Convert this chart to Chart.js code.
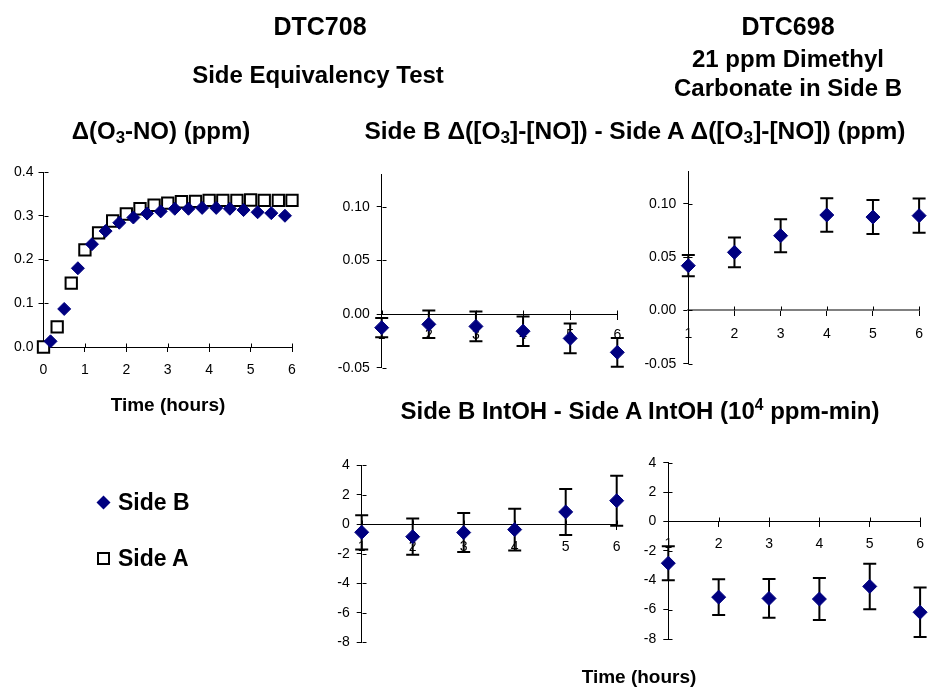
<!DOCTYPE html>
<html><head><meta charset="utf-8">
<script src="https://cdn.jsdelivr.net/npm/chart.js@4.4.1/dist/chart.umd.min.js"></script>
<style>
html,body{margin:0;padding:0;background:#fff;}
#wrap{position:relative;width:933px;height:687px;overflow:hidden;background:#fff;font-family:"Liberation Sans",Arial,Helvetica,sans-serif;color:#000;}
canvas.layer{position:absolute;left:0;top:0;}
.t{position:absolute;width:800px;text-align:center;font-weight:bold;white-space:nowrap;}
.sb{font-size:70%;vertical-align:-0.25em;line-height:0;}
.sp{font-size:65%;vertical-align:0.6em;line-height:0;}
.lg{position:absolute;font-weight:bold;font-size:23px;line-height:23px;white-space:nowrap;}
.lg svg{position:absolute;left:-22px;top:4px;}
</style></head><body>
<div id="wrap">
<canvas class="layer" id="cL" width="933" height="687"></canvas>
<canvas class="layer" id="cP2" width="933" height="687"></canvas>
<canvas class="layer" id="cP3" width="933" height="687"></canvas>
<canvas class="layer" id="cP4" width="933" height="687"></canvas>
<canvas class="layer" id="cP5" width="933" height="687"></canvas>

<div class="t" style="left:-80px;top:14px;font-size:25px;line-height:25px;">DTC708</div>
<div class="t" style="left:-82px;top:63px;font-size:24px;line-height:24px;">Side Equivalency Test</div>
<div class="t" style="left:388px;top:14px;font-size:25px;line-height:25px;">DTC698</div>
<div class="t" style="left:388px;top:47px;font-size:24px;line-height:24px;">21 ppm Dimethyl</div>
<div class="t" style="left:388px;top:76px;font-size:24px;line-height:24px;">Carbonate in Side B</div>
<div class="t" style="left:-239px;top:119px;font-size:24px;line-height:24px;">&Delta;(O<span class="sb">3</span>-NO) (ppm)</div>
<div class="t" style="left:235px;top:119px;font-size:24.5px;line-height:24px;">Side B &Delta;([O<span class="sb">3</span>]-[NO]) - Side A &Delta;([O<span class="sb">3</span>]-[NO]) (ppm)</div>
<div class="t" style="left:-232px;top:395px;font-size:19px;line-height:19px;">Time (hours)</div>
<div class="t" style="left:240px;top:399px;font-size:24px;line-height:24px;">Side B IntOH - Side A IntOH (10<span class="sp">4</span> ppm-min)</div>
<div class="t" style="left:239px;top:667px;font-size:19px;line-height:19px;">Time (hours)</div>

<div class="lg" style="left:118px;top:491px;"><svg width="15" height="15" viewBox="0 0 15 15"><polygon points="7.5,0.5 14.5,7.5 7.5,14.5 0.5,7.5" fill="#000080"/></svg>Side B</div>
<div class="lg" style="left:118px;top:547px;"><svg width="15" height="15" viewBox="0 0 15 15"><rect x="2" y="2" width="11" height="11" fill="#fff" stroke="#000" stroke-width="2"/></svg>Side A</div>
</div>
<script>
// ---------- data ----------
const sideBTimes = [0.17,0.5,0.83,1.17,1.5,1.83,2.17,2.5,2.83,3.17,3.5,3.83,4.17,4.5,4.83,5.17,5.5,5.83];
const sideBO3NO  = [0.013,0.087,0.180,0.235,0.265,0.284,0.296,0.305,0.310,0.316,0.316,0.318,0.318,0.316,0.313,0.308,0.306,0.300];
const sideATimes = [0,0.33,0.67,1,1.33,1.67,2,2.33,2.67,3,3.33,3.67,4,4.33,4.67,5,5.33,5.67,6];
const sideAO3NO  = [0,0.046,0.146,0.222,0.261,0.288,0.304,0.316,0.324,0.329,0.332,0.333,0.335,0.335,0.335,0.336,0.335,0.335,0.335];

const hours = [1,2,3,4,5,6];
const dtc708DO3 = [-0.0127,-0.0096,-0.0115,-0.0160,-0.0227,-0.0357];
const dtc708DO3Err = [0.0090,0.0128,0.0138,0.0137,0.0138,0.0134];
const dtc698DO3 = [0.0419,0.0544,0.0700,0.0894,0.0875,0.0888];
const dtc698DO3Err = [0.0100,0.0139,0.0155,0.0156,0.0160,0.0160];
const dtc708OH = [-0.54,-0.84,-0.56,-0.36,0.84,1.60];
const dtc708OHErr = [1.16,1.23,1.32,1.41,1.56,1.70];
const dtc698OH = [-2.84,-5.15,-5.24,-5.28,-4.42,-6.18];
const dtc698OHErr = [1.16,1.22,1.32,1.43,1.55,1.69];

const leftYTicks = [0,0.1,0.2,0.3,0.4];
const leftXTicks = [0,1,2,3,4,5,6];
const diffYTicks = [-0.05,0,0.05,0.10];
const ohYTicks = [-8,-6,-4,-2,0,2,4];
const hourTicks = [1,2,3,4,5,6];

// ---------- helpers ----------
const FONT = '"Liberation Sans", Arial, Helvetica, sans-serif';
const W = 933, H = 687;
const NAVY = '#000080';

function pts(xs, ys){ return xs.map((x,i)=>({x:x, y:ys[i]})); }

const errorBars = {
  id:'errorBars',
  beforeDatasetsDraw(chart){
    const ctx = chart.ctx, xs = chart.scales.x, ys = chart.scales.y;
    chart.data.datasets.forEach(ds=>{
      if(!ds.errors) return;
      ctx.save();
      ctx.strokeStyle = '#000'; ctx.lineWidth = 2;
      ds.data.forEach((p,i)=>{
        const e = ds.errors[i];
        const px = xs.getPixelForValue(p.x);
        const t = ys.getPixelForValue(p.y + e), b = ys.getPixelForValue(p.y - e);
        ctx.beginPath();
        ctx.moveTo(px, t); ctx.lineTo(px, b);
        ctx.moveTo(px-6.5, t); ctx.lineTo(px+6.5, t);
        ctx.moveTo(px-6.5, b); ctx.lineTo(px+6.5, b);
        ctx.stroke();
      });
      ctx.restore();
    });
  }
};

const innerTicks = {
  id:'innerTicks',
  beforeDatasetsDraw(chart, args, opts){
    const ctx = chart.ctx, xs = chart.scales.x, ys = chart.scales.y;
    const len = 4;
    ctx.save();
    ctx.strokeStyle = '#000'; ctx.lineWidth = 1;
    ctx.beginPath();
    const ax = Math.round(ys.right) + 0.5;
    ys.ticks.forEach((t,i)=>{
      const py = Math.round(ys.getPixelForTick(i)) + 0.5;
      ctx.moveTo(ax, py); ctx.lineTo(ax + len, py);
    });
    const ay = Math.round(opts.crossZero ? ys.getPixelForValue(0) : xs.top) + 0.5;
    xs.ticks.forEach((t,i)=>{
      const px = Math.round(xs.getPixelForTick(i)) + 0.5;
      ctx.moveTo(px, ay); ctx.lineTo(px, ay - len);
    });
    ctx.stroke();
    ctx.restore();
  }
};

function tickOpts(fmt, pad){
  return {color:'#000', font:{family:FONT, size:14}, padding:pad, autoSkip:false, maxRotation:0, callback:fmt};
}
function gridOpts(){
  return {display:true, drawOnChartArea:false, drawTicks:true, tickLength:5, color:'#000', lineWidth:1};
}

function makeChart(id, area, datasets, cfg){
  const yW = Math.min(55, area.left), xH = 40;
  const padding = {
    left: area.left - yW,
    top: area.top,
    right: W - area.right,
    bottom: cfg.crossZero ? (H - area.bottom) : (H - area.bottom - xH)
  };
  return new Chart(document.getElementById(id), {
    type:'scatter',
    data:{datasets:datasets},
    options:{
      responsive:false, animation:false, devicePixelRatio:1,
      layout:{padding:padding},
      plugins:{legend:{display:false}, tooltip:{enabled:false}, innerTicks:{crossZero:cfg.crossZero}},
      scales:{
        x:{
          type:'linear', min:cfg.xMin, max:cfg.xMax,
          position: cfg.crossZero ? {y:0} : 'bottom',
          afterFit(s){ s.height = xH; },
          afterBuildTicks(s){ s.ticks = cfg.xTicks.map(v=>({value:v})); },
          ticks:tickOpts(v=>String(v), cfg.xPad),
          grid:gridOpts(),
          border:{display:true, color:cfg.xAxisColor || '#000', width:cfg.xAxisWidth || 1}
        },
        y:{
          type:'linear', min:cfg.yMin, max:cfg.yMax,
          position:'left',
          afterFit(s){ s.width = yW; },
          afterBuildTicks(s){ s.ticks = cfg.yTicks.map(v=>({value:v})); },
          ticks:tickOpts(cfg.yFmt, cfg.yPad),
          grid:gridOpts(),
          border:{display:true, color:'#000', width:1}
        }
      }
    },
    plugins:[errorBars, innerTicks]
  });
}

function diamondSet(label, xs, ys, errs, r){
  return {label:label, data:pts(xs, ys), errors:errs, showLine:false, clip:false,
    pointStyle:'rectRot', pointRadius:r, pointHoverRadius:r,
    backgroundColor:NAVY, borderColor:NAVY, borderWidth:1};
}

// ---------- left panel ----------
makeChart('cL', {left:43.5, right:292, top:172, bottom:347}, [
  diamondSet('Side B', sideBTimes, sideBO3NO, null, 6.5),
  {label:'Side A', data:pts(sideATimes, sideAO3NO), showLine:false, clip:false,
   pointStyle:'rect', pointRadius:8, pointHoverRadius:8,
   backgroundColor:'#fff', borderColor:'#000', borderWidth:2}
], {xMin:0, xMax:6, yMin:0, yMax:0.4, xTicks:leftXTicks, yTicks:leftYTicks, yFmt:v=>v.toFixed(1), crossZero:false, xPad:10, yPad:5});

// ---------- DTC708 delta(O3-NO) diff ----------
makeChart('cP2', {left:381.7, right:617.3, top:174.5, bottom:367.7}, [
  diamondSet('Side B - Side A', hours, dtc708DO3, dtc708DO3Err, 7)
], {xMin:1, xMax:6, yMin:-0.05, yMax:0.13, xTicks:hourTicks, yTicks:diffYTicks, yFmt:v=>v.toFixed(2), crossZero:true, xPad:8, yPad:7});

// ---------- DTC698 delta(O3-NO) diff ----------
makeChart('cP3', {left:688.3, right:923.3, top:171.7, bottom:363.7}, [
  diamondSet('Side B - Side A', hours, dtc698DO3, dtc698DO3Err, 7)
], {xMin:1, xMax:6, yMin:-0.05, yMax:0.13, xTicks:hourTicks, yTicks:diffYTicks, yFmt:v=>v.toFixed(2), crossZero:true, xAxisColor:'#808080', xAxisWidth:2, xPad:10, yPad:7});

// ---------- DTC708 IntOH diff ----------
makeChart('cP4', {left:361.7, right:616.7, top:465.3, bottom:642.3}, [
  diamondSet('Side B - Side A', hours, dtc708OH, dtc708OHErr, 7)
], {xMin:1, xMax:6, yMin:-8, yMax:4, xTicks:hourTicks, yTicks:ohYTicks, yFmt:v=>String(v), crossZero:true, xPad:9, yPad:7});

// ---------- DTC698 IntOH diff ----------
makeChart('cP5', {left:668.3, right:923.3, top:462.7, bottom:639}, [
  diamondSet('Side B - Side A', hours, dtc698OH, dtc698OHErr, 7)
], {xMin:1, xMax:6, yMin:-8, yMax:4, xTicks:hourTicks, yTicks:ohYTicks, yFmt:v=>String(v), crossZero:true, xPad:9, yPad:7});
</script>
</body></html>
